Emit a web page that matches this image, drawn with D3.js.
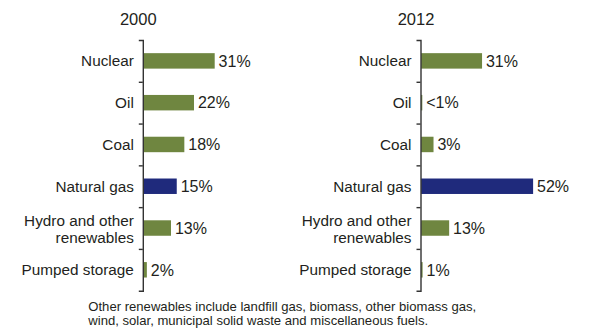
<!DOCTYPE html>
<html>
<head>
<meta charset="utf-8">
<script src="https://cdn.jsdelivr.net/npm/d3@7/dist/d3.min.js"></script>
<style>
  html, body { margin: 0; padding: 0; background: #fff; }
  svg { display: block; }
  text { font-family: "Liberation Sans", Arial, sans-serif; fill: #231f20; }
</style>
</head>
<body>
<svg id="chart" width="595" height="335"></svg>
<script>
// ---- data ----
const categories = ["Nuclear", "Oil", "Coal", "Natural gas", "Hydro and other\nrenewables", "Pumped storage"];
const years = ["2000", "2012"];
const values2000 = [31, 22, 17.8, 14.5, 12, 1.5];
const values2012 = [26.5, 0.5, 5.4, 48.7, 12.2, 0.65];
const labels2000 = ["31%", "22%", "18%", "15%", "13%", "2%"];
const labels2012 = ["31%", "<1%", "3%", "52%", "13%", "1%"];
const highlight = "Natural gas";
const footnote = [
  "Other renewables include landfill gas, biomass, other biomass gas,",
  "wind, solar, municipal solid waste and miscellaneous fuels."
];

(function () {
// ---- layout ----
const svg = d3.select("#chart");
const green = "#6f8640", navy = "#1f2a7c";
const yTop = 40, yBottom = 290.7;
const panels = [
  { year: years[0], values: values2000, labels: labels2000, axisX: 142.8 },
  { year: years[1], values: values2012, labels: labels2012, axisX: 420.5 }
];

const y = d3.scaleBand().domain(categories).range([yTop, yBottom])
  .paddingInner(0.63).paddingOuter(0.315);
const yTicks = d3.scaleLinear().domain([0, categories.length]).range([yTop, yBottom]);
const x = d3.scaleLinear().domain([0, 100]).range([0, 230]);

panels.forEach(p => {
  const g = svg.append("g").attr("transform", `translate(${p.axisX},0)`);

  g.append("text").attr("x", -4.5).attr("y", 25)
    .attr("text-anchor", "middle").style("font-size", "16.5px").text(p.year);

  g.selectAll("rect.bar").data(categories).join("rect")
    .attr("class", "bar")
    .attr("x", 0.6)
    .attr("y", d => y(d))
    .attr("height", y.bandwidth())
    .attr("width", (d, i) => Math.max(1.2, x(p.values[i])))
    .attr("fill", d => d === highlight ? navy : green);

  g.selectAll("text.val").data(categories).join("text")
    .attr("class", "val")
    .attr("x", (d, i) => Math.max(1.2, x(p.values[i])) + 4.5)
    .attr("y", d => y(d) + y.bandwidth() / 2)
    .attr("dy", "0.36em")
    .style("font-size", "16px")
    .text((d, i) => p.labels[i]);

  const axis = d3.axisLeft(yTicks).tickValues(d3.range(1, categories.length))
    .tickSize(4).tickSizeOuter(4).tickFormat("");
  const ag = g.append("g").call(axis);
  ag.selectAll("path, line").attr("stroke", "#333").attr("stroke-width", 1.4);

  const lh = 17.3;
  g.selectAll("text.cat").data(categories).join("text")
    .attr("class", "cat")
    .attr("text-anchor", "end")
    .style("font-size", "15.3px")
    .each(function(d) {
      const lines = d.split("\n");
      const cy = y(d) + y.bandwidth() / 2;
      const t = d3.select(this);
      lines.forEach((ln, k) => {
        t.append("tspan").attr("x", -9)
          .attr("y", cy + 5.4 - (lines.length - 1) * lh / 2 + (lines.length > 1 ? 1.3 : 0) + k * lh)
          .text(ln);
      });
    });
});

svg.append("text").style("font-size", "13.1px")
  .selectAll("tspan").data(footnote).join("tspan")
  .attr("x", 88.3).attr("y", (d, i) => 310.8 + i * 13.7)
  .text(d => d);
})();
</script>
</body>
</html>
